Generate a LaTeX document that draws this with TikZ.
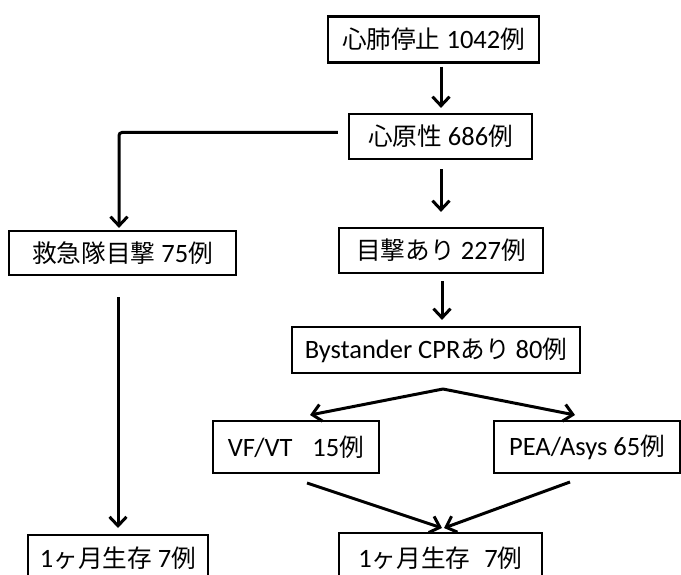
\documentclass[tikz,border=0pt]{standalone}
\usepackage{fontspec}
\setmainfont{Carlito}
\newfontfamily\jp[Scale=0.93]{Noto Sans CJK JP}
\usetikzlibrary{arrows.meta}
\newcommand\J[1]{{\jp #1}}
\begin{document}
\begin{tikzpicture}[x=1pt,y=-1pt,
  box/.style={draw=black,line width=2.2pt,rectangle,inner sep=0pt,font=\fontsize{26.5}{30}\selectfont},
  arr/.style={draw=black,line width=3pt,-{Straight Barb[length=9pt,width=17pt]}}]
\useasboundingbox (0,0) rectangle (681,575);
\clip (0,0) rectangle (681,575);
\node[box,minimum width=211pt,minimum height=46pt] (n1) at (433.5,39.5) {\J{心肺停止} 1042\J{例}};
\node[box,minimum width=183pt,minimum height=45pt] (n2) at (440.5,136.5) {\J{心原性} 686\J{例}};
\node[box,minimum width=227pt,minimum height=44pt] (n3) at (122.5,253) {\J{救急隊目撃} 75\J{例}};
\node[box,minimum width=204pt,minimum height=45pt] (n4) at (441,250.5) {\J{目撃あり} 227\J{例}};
\node[box,minimum width=288pt,minimum height=46pt] (n5) at (436,350) {Bystander CPR\J{あり} 80\J{例}};
\node[box,minimum width=166pt,minimum height=52pt] (n6) at (296,447) {VF/VT\hspace{20pt}15\J{例}};
\node[box,minimum width=186pt,minimum height=52pt] (n7) at (587,447) {PEA/Asys 65\J{例}};
\node[box,minimum width=203pt,minimum height=50pt] (n8) at (440.5,558) {1\J{ヶ月生存}\hspace{14pt}7\J{例}};
\node[box,minimum width=180pt,minimum height=46pt] (n9) at (118,558) {1\J{ヶ月生存} 7\J{例}};
\coordinate (split) at (443,389);
\coordinate (e6) at (310,415);
\coordinate (e7) at (575,415);
\coordinate (m) at (442,528);
\coordinate (s6) at (307,483);
\coordinate (s7) at (570,482);
\draw[arr,shorten <=3pt,shorten >=5pt] (n1.south -| 441,0) -- (n2.north -| 441,0);
\draw[arr,shorten <=9pt,shorten >=15pt] (n2.south -| 441,0) -- (n4.north -| 441,0);
\draw[arr,shorten >=2pt,rounded corners=3pt] ([xshift=-10pt,yshift=4pt]n2.west) -| (n3.north -| 119,0);
\draw[arr,shorten <=7pt,shorten >=6pt] (n4.south -| 442,0) -- (n5.north -| 442,0);
\draw[arr] (split) -- (e6);
\draw[arr] (split) -- (e7);
\draw[arr] (n3.south -| 118,0) ++(0,21) -- (m -| 118,0);
\draw[arr] (s6) -- (m);
\draw[arr] (s7) -- ([xshift=2pt]m);
\end{tikzpicture}
\end{document}
